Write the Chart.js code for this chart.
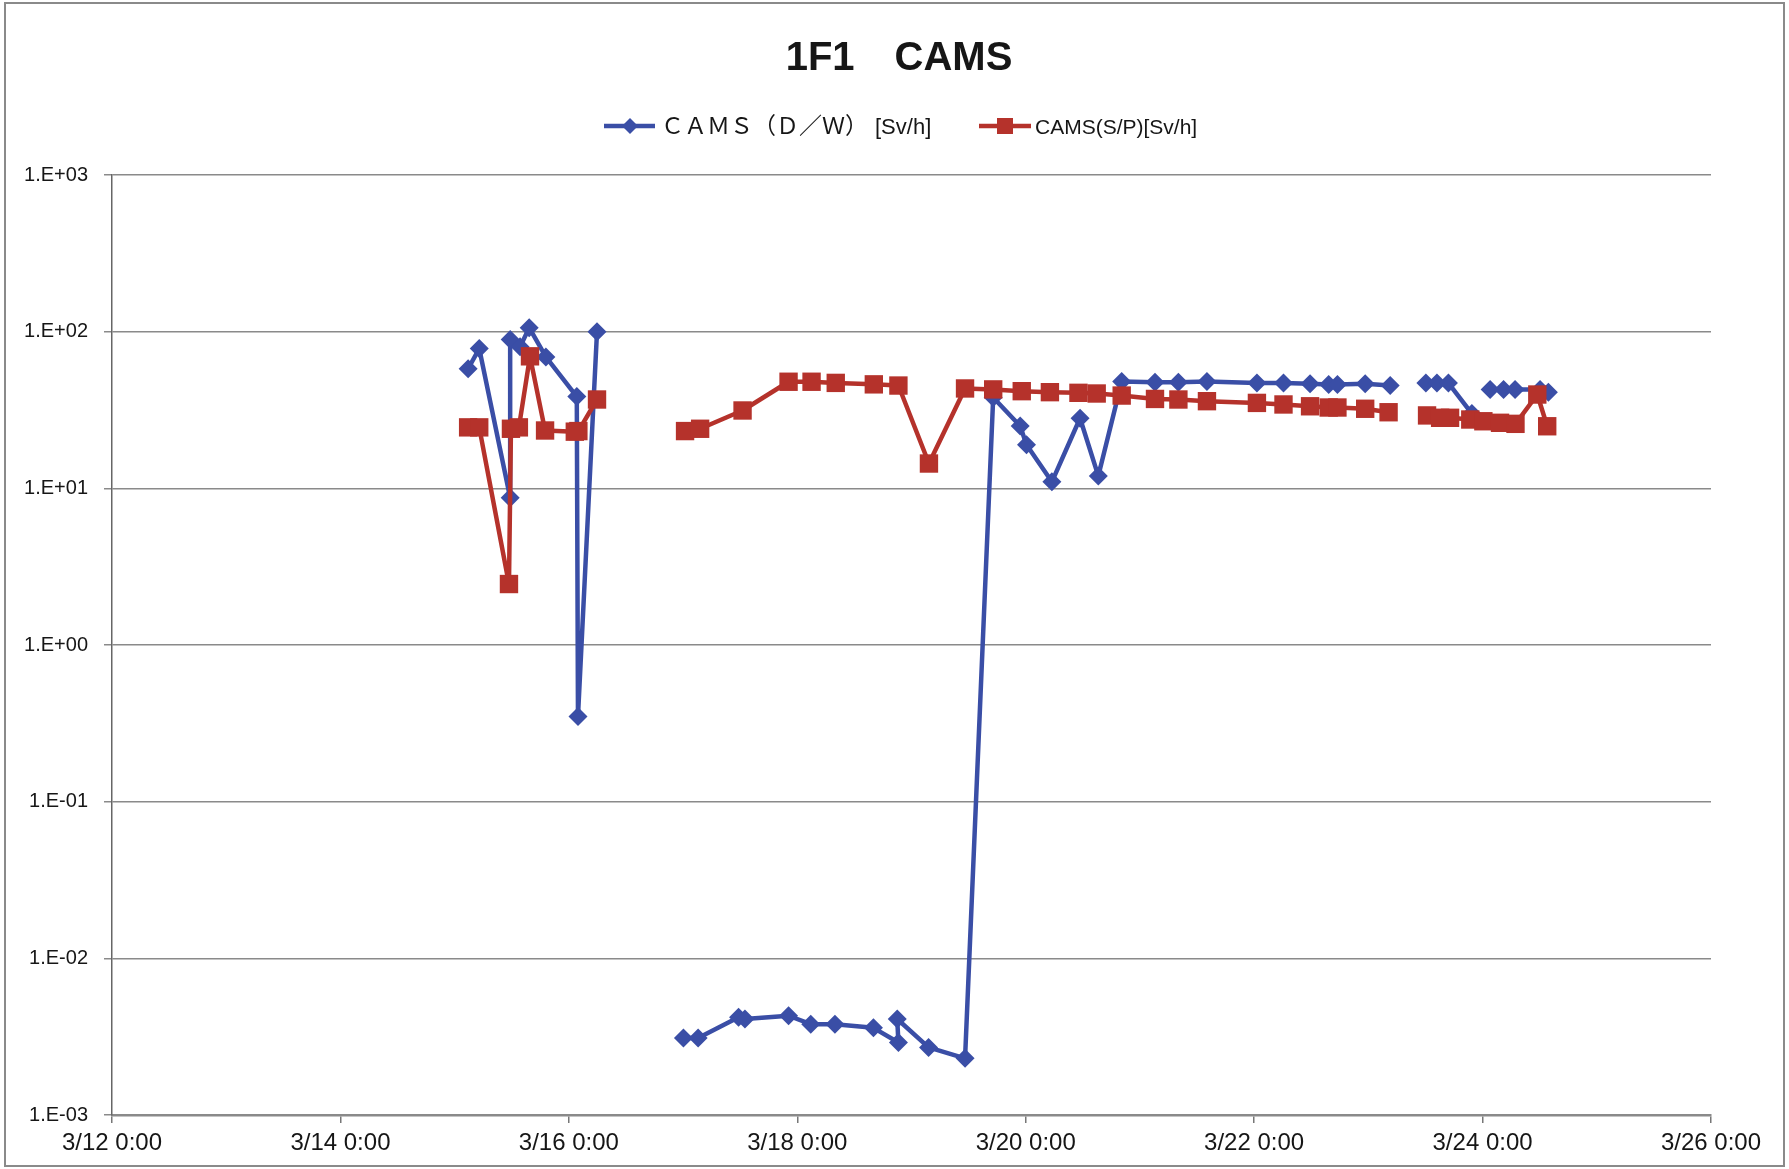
<!DOCTYPE html>
<html>
<head>
<meta charset="utf-8">
<title>1F1 CAMS</title>
<script src="https://cdn.jsdelivr.net/npm/chart.js@4.4.0/dist/chart.umd.min.js"></script>
<style>
  html, body { margin:0; padding:0; background:#fff; }
  #wrap { width:1789px; height:1169px; position:relative; }
</style>
</head>
<body>
<div id="wrap"><canvas id="chart" width="1789" height="1169"></canvas></div>
<script>
// ----------------- DATA -----------------
const TITLE = '1F1\u3000CAMS';
const DW_LABEL = 'ＣＡＭＳ（Ｄ／Ｗ）';
const DW_UNIT = '[Sv/h]';
const SP_LABEL = 'CAMS(S/P)[Sv/h]';

// time of day labels (M/D H:MM), null value = break in the line
const dwTimes = [
  '3/15 2:50','3/15 5:10','3/15 11:40','3/15 11:40','3/15 13:45','3/15 15:40','3/15 19:10',
  '3/16 1:40','3/16 1:55','3/16 5:55','3/16 12:00',
  '3/17 0:05','3/17 3:10','3/17 11:40','3/17 13:00','3/17 22:10',
  '3/18 2:50','3/18 7:55','3/18 16:00','3/18 21:15','3/18 21:00',
  '3/19 3:35','3/19 11:15','3/19 17:10','3/19 22:50',
  '3/20 0:10','3/20 5:30','3/20 11:25','3/20 15:15','3/20 20:10',
  '3/21 3:10','3/21 8:05','3/21 14:05',
  '3/22 0:35','3/22 6:10','3/22 11:45','3/22 15:40','3/22 17:30','3/22 23:20',
  '3/23 4:35','3/23 8:00','3/23 12:05','3/23 14:25','3/23 16:50','3/23 21:45','3/23 23:00',
  '3/24 1:35','3/24 4:25','3/24 6:50','3/24 12:05','3/24 13:50'
];
const dwValues = [
  58, 78, 8.7, 89, 80, 106, 69,
  38.5, 0.35, 100, null,
  0.0031, 0.0031, 0.0042, 0.0041, 0.0043,
  0.0038, 0.0038, 0.0036, 0.0029, 0.0041,
  0.0027, 0.0023, 38, 25,
  19, 11, 28, 12, 48,
  47.5, 47.5, 48,
  47, 47, 46.5, 46, 46, 46.5,
  45.3, null, 47, 47, 47, 30, null,
  42.8, 42.8, 42.8, 42.8, 41
];

const spTimes = [
  '3/15 2:50','3/15 5:10','3/15 11:25','3/15 11:50','3/15 13:30','3/15 15:50','3/15 19:00',
  '3/16 1:15','3/16 2:00','3/16 5:55','3/16 12:00',
  '3/17 0:25','3/17 3:35','3/17 12:30','3/17 22:10',
  '3/18 3:00','3/18 8:05','3/18 16:05','3/18 21:15',
  '3/19 3:40','3/19 11:15','3/19 17:10','3/19 23:10',
  '3/20 5:05','3/20 11:05','3/20 14:55','3/20 20:10',
  '3/21 3:10','3/21 8:05','3/21 14:05',
  '3/22 0:35','3/22 6:10','3/22 11:45','3/22 15:40','3/22 17:30','3/22 23:20',
  '3/23 4:15','3/23 8:00','3/23 12:20','3/23 15:05','3/23 17:10','3/23 21:25',
  '3/24 0:10','3/24 3:40','3/24 6:55','3/24 11:30','3/24 13:35'
];
const spValues = [
  24.5, 24.5, 2.45, 24, 24.5, 69.6, 23.4,
  23, 23.2, 36.9, null,
  23.2, 24, 31.4, 47.9,
  47.9, 47.1, 46.1, 45.3,
  14.4, 43.4, 42.8, 41.7,
  41.1, 40.7, 40.3, 39.1,
  37.2, 36.9, 36,
  35.1, 34.3, 33.4, 32.8, 32.8, 32.2,
  30.6, null, 29.2, 28.2, 28.2, 27.5,
  26.8, 26.2, 25.8, 39.7, 24.9
];

// x axis: hours from 3/12 0:00, labelled every 2 days
const X_MIN_DAY = 12;
const X_MAX_DAY = 26;
const yDecades = [-3, -2, -1, 0, 1, 2, 3];
// ------------------------------------------

const BLUE = '#3a4ea6';
const RED = '#b5322b';
const INK = '#161616';

function hoursFrom(t){
  const [md, hm] = t.split(' ');
  const day = +md.split('/')[1];
  const [h, m] = hm.split(':').map(Number);
  return (day - X_MIN_DAY) * 24 + h + m / 60;
}
const toPoints = (times, vals) => times.map((t, i) => ({ x: hoursFrom(t), y: vals[i] }));

function sciLabel(v){
  const e = Math.round(Math.log10(v));
  return '1.E' + (e < 0 ? '-' : '+') + String(Math.abs(e)).padStart(2, '0');
}

// frame, title and legend (line + marker like the original)
const decor = {
  id: 'decor',
  afterDraw(chart){
    const ctx = chart.ctx;
    ctx.save();
    ctx.strokeStyle = '#8a8a8a';
    ctx.lineWidth = 2;
    ctx.strokeRect(5, 3, 1779, 1163);

    ctx.fillStyle = INK;
    ctx.font = 'bold 40px "Liberation Sans", "Noto Sans CJK JP", sans-serif';
    ctx.textAlign = 'center';
    ctx.textBaseline = 'alphabetic';
    ctx.fillText(TITLE, 899, 70);

    const ly = 126;
    ctx.lineWidth = 4.5;
    // blue item
    ctx.strokeStyle = BLUE;
    ctx.beginPath(); ctx.moveTo(604, ly); ctx.lineTo(655, ly); ctx.stroke();
    ctx.fillStyle = BLUE;
    ctx.beginPath();
    ctx.moveTo(630, ly - 8); ctx.lineTo(638, ly); ctx.lineTo(630, ly + 8); ctx.lineTo(622, ly);
    ctx.closePath(); ctx.fill();
    // red item
    ctx.strokeStyle = RED;
    ctx.beginPath(); ctx.moveTo(979, ly); ctx.lineTo(1031, ly); ctx.stroke();
    ctx.fillStyle = RED;
    ctx.fillRect(997, ly - 8, 16, 16);

    // legend texts share one baseline
    const base = ly + 8;
    ctx.fillStyle = INK;
    ctx.textAlign = 'left';
    ctx.textBaseline = 'alphabetic';
    ctx.font = '23px "Noto Sans CJK JP", sans-serif';
    ctx.fillText(DW_LABEL, 661, base);
    ctx.font = '22px "Liberation Sans", sans-serif';
    ctx.fillText(DW_UNIT, 875, base);
    ctx.font = '21px "Liberation Sans", sans-serif';
    ctx.fillText(SP_LABEL, 1035, base);
    ctx.restore();
  }
};

new Chart(document.getElementById('chart').getContext('2d'), {
  type: 'line',
  data: {
    datasets: [
      {
        label: SP_LABEL, data: toPoints(spTimes, spValues), order: 0,
        borderColor: RED, backgroundColor: RED, borderWidth: 4.5, borderJoinStyle: 'round',
        pointStyle: 'rect', pointRadius: 13, pointBorderWidth: 0,
        spanGaps: false, tension: 0
      },
      {
        label: DW_LABEL + DW_UNIT, data: toPoints(dwTimes, dwValues), order: 1,
        borderColor: BLUE, backgroundColor: BLUE, borderWidth: 4.5, borderJoinStyle: 'round',
        pointStyle: 'rectRot', pointRadius: 9.5, pointBorderWidth: 0,
        spanGaps: false, tension: 0
      }
    ]
  },
  options: {
    responsive: false,
    animation: false,
    devicePixelRatio: 1,
    layout: { padding: { top: 175, right: 78, left: 0, bottom: 0 } },
    plugins: { legend: { display: false }, title: { display: false }, tooltip: { enabled: false } },
    scales: {
      x: {
        type: 'linear',
        min: 0, max: (X_MAX_DAY - X_MIN_DAY) * 24,
        afterFit: s => { s.height = 54; },
        ticks: {
          stepSize: 48, autoSkip: false, maxRotation: 0, padding: 6,
          color: INK,
          font: { family: '"Liberation Sans", sans-serif', size: 24 },
          callback: v => '3/' + (X_MIN_DAY + v / 24) + ' 0:00'
        },
        grid: { drawOnChartArea: false, drawTicks: true, tickLength: 8, color: '#777', lineWidth: 1.5 },
        border: { display: true, color: '#8a8a8a', width: 2.5 }
      },
      y: {
        type: 'logarithmic',
        min: 1e-3, max: 1e3,
        afterFit: s => { s.width = 112; },
        afterBuildTicks: s => { s.ticks = yDecades.map(e => ({ value: Math.pow(10, e) })); },
        ticks: {
          padding: 16, color: INK,
          font: { family: '"Liberation Sans", sans-serif', size: 20 },
          callback: v => sciLabel(v)
        },
        grid: { color: '#8a8a8a', lineWidth: 1.5, tickLength: 8 },
        border: { display: true, color: '#666', width: 1.5 }
      }
    }
  },
  plugins: [decor]
});
</script>
</body>
</html>
